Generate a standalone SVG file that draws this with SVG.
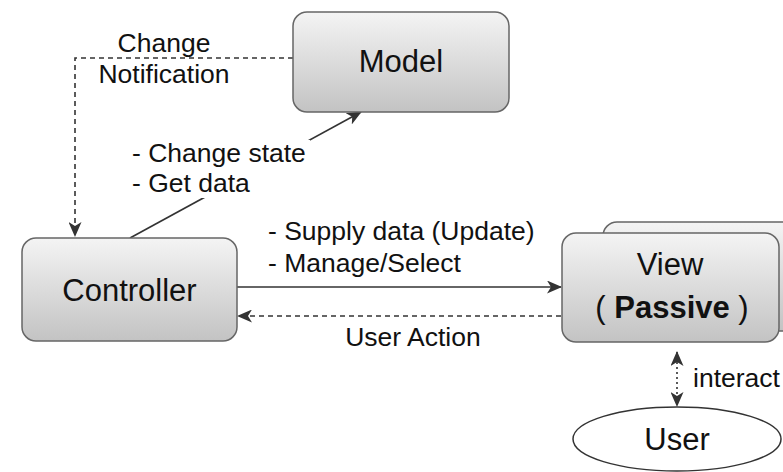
<svg xmlns="http://www.w3.org/2000/svg" width="783" height="472" viewBox="0 0 783 472">
<defs>
<linearGradient id="g" x1="0" y1="0" x2="0" y2="1">
<stop offset="0" stop-color="#f4f4f4"/>
<stop offset="1" stop-color="#c3c3c3"/>
</linearGradient>
<marker id="arr" markerUnits="userSpaceOnUse" markerWidth="15" markerHeight="13" viewBox="0 0 15 13" refX="14" refY="6.5" orient="auto-start-reverse">
<path d="M0,0 L15,6.5 L0,13 L4,6.5 Z" fill="#333"/>
</marker>
<style>
.node{fill:url(#g);stroke:#666;stroke-width:1.5}
.t{font-family:"Liberation Sans",Arial,sans-serif;fill:#111}
.nl{font-size:31px;text-anchor:middle}
.el{font-size:26.5px}
.c{fill:none;stroke:#333;stroke-width:1.6}
</style>
</defs>
<g id="connectors">
<path class="c" d="M293,58 H75 V236" stroke-dasharray="5,4" marker-end="url(#arr)"/>
<path class="c" d="M130,238 L361,112" marker-end="url(#arr)"/>
<path class="c" d="M237,287 H561" marker-end="url(#arr)"/>
<path class="c" d="M561,316 H238" stroke-dasharray="5,4" marker-end="url(#arr)"/>
<path class="c" d="M677,352 V406" stroke-dasharray="2,3" marker-start="url(#arr)" marker-end="url(#arr)"/>
<rect x="128" y="140" width="182" height="58" fill="#fff"/>
<text class="t el" x="164" y="52" text-anchor="middle">Change</text>
<text class="t el" x="164" y="83" text-anchor="middle">Notification</text>
<text class="t el" x="132" y="162">- Change state</text>
<text class="t el" x="132" y="192">- Get data</text>
<text class="t el" x="268" y="240">- Supply data (Update)</text>
<text class="t el" x="268" y="272">- Manage/Select</text>
<text class="t el" x="413" y="346" text-anchor="middle">User Action</text>
<text class="t el" x="693" y="387">interact</text>
</g>
<g id="model">
<rect class="node" x="293" y="12" width="216" height="100" rx="14"/>
<text class="t nl" x="401" y="72">Model</text>
</g>
<g id="controller">
<rect class="node" x="22" y="238" width="215" height="103" rx="14"/>
<text class="t nl" x="129.5" y="301">Controller</text>
</g>
<g id="view">
<rect class="node" x="603" y="222" width="217" height="109" rx="14"/>
<rect class="node" x="562" y="233" width="217" height="109" rx="14"/>
<text class="t nl" x="670" y="275">View</text>
<text class="t nl" x="672" y="318" font-size="29.5">( <tspan font-weight="bold">Passive</tspan> )</text>
</g>
<g id="user">
<ellipse cx="677" cy="439" rx="104" ry="32" fill="#fff" stroke="#333" stroke-width="1.5"/>
<text class="t nl" x="677" y="450">User</text>
</g>
</svg>
